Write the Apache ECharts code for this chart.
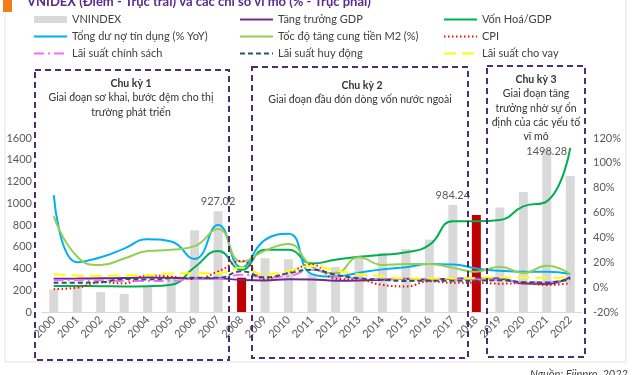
<!DOCTYPE html>
<html><head><meta charset="utf-8">
<script src="https://cdn.jsdelivr.net/npm/echarts@6/dist/echarts.min.js"></script>
<style>html,body{margin:0;padding:0;background:#fff}#c{width:640px;height:375px}</style>
</head><body><div id="c"></div>
<script>
var years = ['2000','2001','2002','2003','2004','2005','2006','2007','2008','2009','2010','2011','2012','2013','2014','2015','2016','2017','2018','2019','2020','2021','2022'];
var vnindex = [206.83,235.4,183.33,166.94,239.29,307.5,751.77,927.02,315.62,494.77,484.66,351.55,413.73,504.63,545.63,579.03,664.87,984.24,892.54,960.99,1103.87,1498.28,1250];
var redYears = ['2008','2018'];
var labelYears = ['2007','2017','2021'];
var gdp = [6.8,6.9,7.1,7.3,7.8,7.5,7.0,7.1,5.7,5.4,6.4,6.2,5.2,5.4,6.0,6.7,6.2,6.8,7.1,7.0,2.9,2.6,8.0];
var capGdp = [1,1,0.8,0.6,0.8,2,16,29,14,30,30,19,22,24.5,26,28,34,53,53,54,65,69,112];
var credit = [74,20,24,31,38.6,36.7,22.7,50,16,38,43,10.5,8.5,11.6,14.3,16,18.6,18.3,15,13.2,12.4,12.4,10.5];
var m2 = [57,24.5,17.8,23,29,30,33,46.7,20.5,29.4,34.8,16.5,11.3,24,17.8,18.6,18.6,15.6,12.4,16.5,11.3,17.3,10.5];
var cpi = [-1.6,-0.4,4.0,3.0,9.5,8.4,6.6,12.6,21,6.5,11.75,18.1,6.8,6.0,1.8,0.6,4.7,3.5,3.5,2.8,3.2,1.8,3.2];
var policyRate = [5.5,5.5,5.5,5.0,5.0,5.0,6.5,6.5,10,8,9,14,9,7,6.5,6.5,6.5,6.25,6.25,6,4,4,6];
var depositRate = [3.6,3.6,3.9,6.6,6.2,7.1,7.6,7.5,12.7,7.9,11.2,14,10,7.1,5.8,5,5.2,5.1,5.2,5.5,4.0,3.7,6.5];
var lendingRate = [10.6,9.4,9.1,9.5,9.7,11.0,11.2,11.2,15.8,10.1,13.1,17.0,13.5,10.4,8.7,7.0,7.0,7.1,7.4,7.7,7.7,7.5,7.9];
var leftTicks = [0,1600,200];
var rightTicks = [-20,120,20];

var FONT = 'Lato, "Noto Sans", sans-serif';
var chart = echarts.init(document.getElementById('c'), null, {renderer:'canvas'});

var barData = vnindex.map(function(v,i){
  var d = {value:v};
  if (redYears.indexOf(years[i])>=0) d.itemStyle = {color:'#c00000'};
  if (labelYears.indexOf(years[i])>=0) d.label = {show:true, position:'top', distance: years[i]==='2021' ? -8 : 4, color:'#595959', fontSize:11, fontFamily:FONT};
  return d;
});

function lineSeries(name, data, color, type, width){
  return {name:name, type:'line', yAxisIndex:1, data:data, smooth:true, symbol:'none', showSymbol:false,
    lineStyle:{color:color, width:width||2, type:type||'solid'}, itemStyle:{color:color}, z:3};
}

var boxStroke = '#4f2b70';
function box(x1,y1,x2,y2){
  return {type:'rect', shape:{x:x1,y:y1,width:x2-x1,height:y2-y1}, z:100,
    style:{fill:'none', stroke:boxStroke, lineWidth:2, lineDash:[6,4]}};
}
function txt(x,y,s,bold){
  return {type:'text', x:x, y:y, z:101, style:{text:s, fill:'#333', font:(bold?'bold ':'')+'10.5px '+FONT, textAlign:'center', textVerticalAlign:'middle'}};
}

var legendCommon = {orient:'vertical', padding:0, itemWidth:33, itemHeight:7, itemGap:6,
  itemStyle:{opacity:0},
  textStyle:{fontSize:11, color:'#404040', fontFamily:FONT, padding:[0,0,0,0]}, top:14};

chart.setOption({
  animation:false,
  textStyle:{fontFamily:FONT},
  grid:{left:42, right:58, top:138, bottom:63},
  legend:[
    Object.assign({}, legendCommon, {left:33, data:[{name:'VNINDEX', icon:'rect', itemStyle:{opacity:1, color:'#d9d9d9'}},'Tổng dư nợ tín dụng (% YoY)','Lãi suất chính sách']}),
    Object.assign({}, legendCommon, {left:239, data:['Tăng trưởng GDP','Tốc độ tăng cung tiền M2 (%)','Lãi suất huy động']}),
    Object.assign({}, legendCommon, {left:443, data:['Vốn Hoá/GDP','CPI','Lãi suất cho vay']})
  ],
  xAxis:{type:'category', data:years, axisTick:{show:false},
    axisLine:{lineStyle:{color:'#d9d9d9', width:1}},
    axisLabel:{rotate:45, fontSize:11, color:'#595959', margin:6, interval:0}},
  yAxis:[
    {type:'value', min:leftTicks[0], max:leftTicks[1], interval:leftTicks[2], splitLine:{show:false},
     axisLabel:{fontSize:11, color:'#595959', margin:10, formatter:function(v){return String(v);}}},
    {type:'value', min:rightTicks[0], max:rightTicks[1], interval:rightTicks[2], splitLine:{show:false},
     axisLabel:{fontSize:11, color:'#595959', margin:11, formatter:'{value}%'}}
  ],
  series:[
    {name:'VNINDEX', type:'bar', data:barData, barWidth:9, itemStyle:{color:'#d9d9d9'}, z:2},
    lineSeries('Tăng trưởng GDP', gdp, '#6a2c91'),
    lineSeries('Vốn Hoá/GDP', capGdp, '#00b050'),
    lineSeries('Tổng dư nợ tín dụng (% YoY)', credit, '#00b0f0'),
    lineSeries('Tốc độ tăng cung tiền M2 (%)', m2, '#92d050'),
    lineSeries('CPI', cpi, '#ff0000', [1.5,2.5]),
    lineSeries('Lãi suất chính sách', policyRate, '#ff66ff', [10,4,2,4]),
    lineSeries('Lãi suất huy động', depositRate, '#215868', [5,3]),
    lineSeries('Lãi suất cho vay', lendingRate, '#ffff00', [12,6])
  ],
  graphic:[
    {type:'rect', shape:{x:5,y:-2,width:621,height:364}, z:0, style:{fill:'none', stroke:'#e3e3e3', lineWidth:1}},
    {type:'rect', shape:{x:3,y:0,width:9,height:12}, z:1, style:{fill:'#f07f1b'}},
    {type:'text', x:27, y:2, z:2, style:{text:'VNIDEX (Điểm - Trục trái) và các chỉ số vĩ mô (% - Trục phải)', fill:'#5b2b8c', font:'bold 13px '+FONT, textVerticalAlign:'middle'}},
    box(35,70,229,360), box(252,67,468,358), box(487,66,585,357),
    txt(131,84,'Chu kỳ 1',true), txt(131,98,'Giai đoạn sơ khai, bước đệm cho thị'), txt(131,113,'trường phát triển'),
    txt(362,86,'Chu kỳ 2',true), txt(360,100,'Giai đoạn đầu đón dòng vốn nước ngoài'),
    txt(536,80,'Chu kỳ 3',true), txt(536,94,'Giai đoạn tăng'), txt(536,109,'trưởng nhờ sự ổn'), txt(536,123,'định của các yếu tố'), txt(536,137,'vĩ mô'),
    {type:'text', right:12, y:374, z:2, style:{text:'Nguồn: Fiinpro, 2022', fill:'#404040', font:'italic 11px '+FONT, textVerticalAlign:'middle'}}
  ]
});
</script></body></html>
